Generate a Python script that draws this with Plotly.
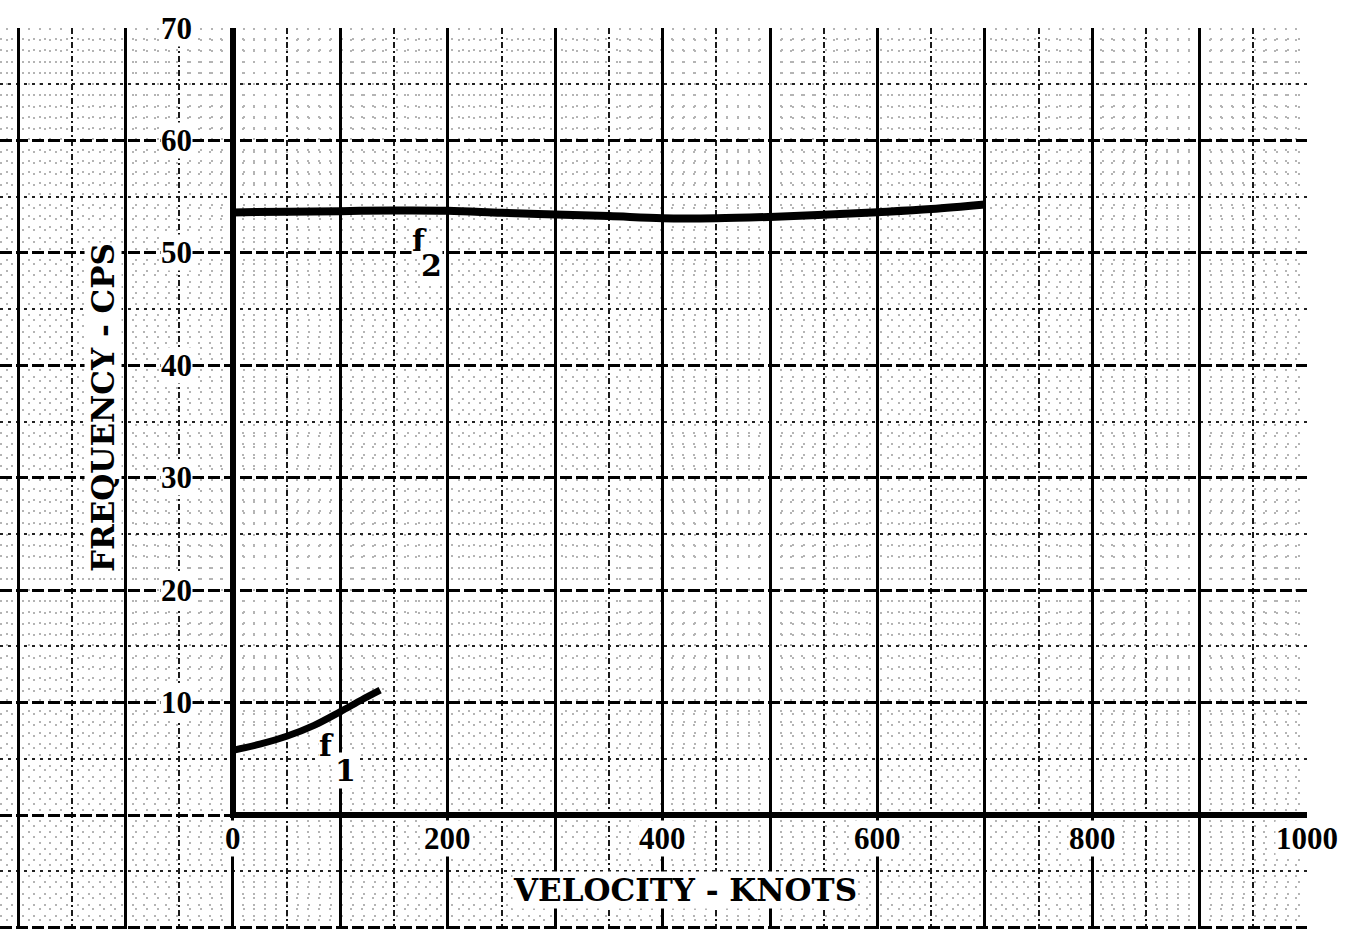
import plotly.graph_objects as go

# ---- data -------------------------------------------------------------
f1_velocity = [0, 25, 50, 75, 100, 120, 137]
f1_freq = [5.75, 6.3, 7.0, 7.95, 9.2, 10.25, 11.1]

f2_velocity = [0, 50, 100, 150, 200, 250, 300, 350, 400, 450, 500, 550, 600, 650, 700]
f2_freq = [53.6, 53.66, 53.71, 53.77, 53.75, 53.57, 53.42, 53.27, 53.08, 53.08,
           53.2, 53.38, 53.62, 53.9, 54.3]

x_ticks = [0, 200, 400, 600, 800, 1000]
x_tick_labels = ["0", "200", "400", "600", "800", "1000"]
y_ticks = [10, 20, 30, 40, 50, 60, 70]
y_tick_labels = ["10", "20", "30", "40", "50", "60", "70"]

x_title = "VELOCITY - KNOTS"
y_title = "FREQUENCY - CPS"

# ---- page geometry -----------------------------------------------------
W, H = 1350, 929
M_L, M_R, M_T, M_B = 0, 43, 28, 0
PLOT_W, PLOT_H = W - M_L - M_R, H - M_T - M_B

X_RANGE = [-216.94, 1000]          # graph paper extends left of the origin
Y_RANGE = [-10.14, 70]             # ...and below it
PX_X = PLOT_W / (X_RANGE[1] - X_RANGE[0])
PX_Y = PLOT_H / (Y_RANGE[1] - Y_RANGE[0])
X0_PX = -X_RANGE[0] * PX_X         # pixel column of velocity 0
Y0_PX = Y_RANGE[1] * PX_Y          # pixel row of frequency 0 (from plot top)
AXIS_W = 6

TICK_FONT = dict(family="Liberation Serif", size=31, color="black", weight="bold")
TITLE_FONT = dict(family="DejaVu Serif", size=31, color="black", weight="bold")
CURVE_FONT = dict(family="DejaVu Serif", size=30, color="black", weight="bold")

fig = go.Figure()

# heavy response curves
fig.add_trace(go.Scatter(x=f1_velocity, y=f1_freq, mode="lines",
                         line=dict(color="black", width=7, shape="spline", smoothing=1.0),
                         xaxis="x", yaxis="y", showlegend=False, hoverinfo="skip"))
fig.add_trace(go.Scatter(x=f2_velocity, y=f2_freq, mode="lines",
                         line=dict(color="black", width=8, shape="spline"),
                         xaxis="x", yaxis="y", showlegend=False, hoverinfo="skip"))

# carriers for the extra grid layer and the heavy axis frame
fig.add_trace(go.Scatter(x=[], y=[], xaxis="x3", yaxis="y3", showlegend=False))
fig.add_trace(go.Scatter(x=[], y=[], xaxis="x2", yaxis="y2", showlegend=False))

blank = dict(showticklabels=False, ticks="", zeroline=False, showline=False)

fig.update_layout(
    width=W, height=H,
    margin=dict(l=M_L, r=M_R, t=M_T, b=M_B, pad=0),
    paper_bgcolor="white", plot_bgcolor="rgba(0,0,0,0)",
    showlegend=False,
    # graph paper: 50-knot dashed + 10-knot dotted
    xaxis=dict(range=X_RANGE, domain=[0, 1], tick0=0, dtick=50,
               showgrid=True, gridcolor="#1a1a1a", gridwidth=2, griddash="6px,3px,2px,3px",
               minor=dict(tick0=0, dtick=10, showgrid=True, gridcolor="#b4b4b4",
                          gridwidth=1.5, griddash="2px,9px"),
               **blank),
    # graph paper: 5-cps dotted + 1-cps dotted
    yaxis=dict(range=Y_RANGE, domain=[0, 1], tick0=0, dtick=5,
               showgrid=True, gridcolor="#222222", gridwidth=2, griddash="3px,5px",
               minor=dict(tick0=0, dtick=1, showgrid=True, gridcolor="#b4b4b4",
                          gridwidth=1.5, griddash="2px,9px"),
               **blank),
    # graph paper: 100-knot solid rules and 10-cps dashed rules
    xaxis3=dict(range=X_RANGE, overlaying="x", anchor="y", tick0=0, dtick=100,
                showgrid=True, gridcolor="black", gridwidth=2.5, **blank),
    yaxis3=dict(range=Y_RANGE, overlaying="y", anchor="x", tick0=0, dtick=10,
                showgrid=True, gridcolor="black", gridwidth=2.5, griddash="12px,4px",
                **blank),
    # heavy frame: velocity axis and frequency axis
    xaxis2=dict(domain=[(X0_PX + AXIS_W / 2) / PLOT_W, 1], anchor="y2",
                range=[(AXIS_W / 2) / PX_X, 1000], showgrid=False,
                showticklabels=False, ticks="", zeroline=False,
                showline=True, linewidth=AXIS_W, linecolor="black"),
    yaxis2=dict(domain=[(PLOT_H - Y0_PX + AXIS_W / 2) / PLOT_H, 1], anchor="x2",
                range=[(AXIS_W / 2) / PX_Y, 70], showgrid=False,
                showticklabels=False, ticks="", zeroline=False,
                showline=True, linewidth=AXIS_W, linecolor="black"),
)

ann = []
# tick labels sit on white patches of the paper
for v, t in zip(x_ticks, x_tick_labels):
    ann.append(dict(x=v, y=-2.13, xref="x", yref="y", text=t, showarrow=False,
                    xanchor="center", yanchor="middle", font=TICK_FONT,
                    bgcolor="white", borderpad=0))
for v, t in zip(y_ticks, y_tick_labels):
    ann.append(dict(x=-53, y=v, xref="x", yref="y", text=t, showarrow=False,
                    xanchor="center", yanchor="middle", font=TICK_FONT,
                    bgcolor="white", borderpad=0))
# axis titles
ann.append(dict(x=421, y=-6.67, xref="x", yref="y", text=x_title, showarrow=False,
                font=TITLE_FONT, bgcolor="white", borderpad=0))
ann.append(dict(x=-121, y=36.2, xref="x", yref="y", text=y_title, showarrow=False,
                textangle=-90, font=TITLE_FONT, bgcolor="white", borderpad=0))
# curve names
for (fx, fy), (sx, sy), sub in [((87.5, 6.14), (104.3, 4.0), "1"),
                                ((173.2, 51.14), (184.4, 48.92), "2")]:
    ann.append(dict(x=fx, y=fy, xref="x", yref="y", text="f", showarrow=False,
                    font=CURVE_FONT, bgcolor="white", borderpad=0))
    ann.append(dict(x=sx, y=sy, xref="x", yref="y", text=sub, showarrow=False,
                    font=CURVE_FONT, bgcolor="white", borderpad=0))
fig.update_layout(annotations=ann)

fig.write_html("out.html")
